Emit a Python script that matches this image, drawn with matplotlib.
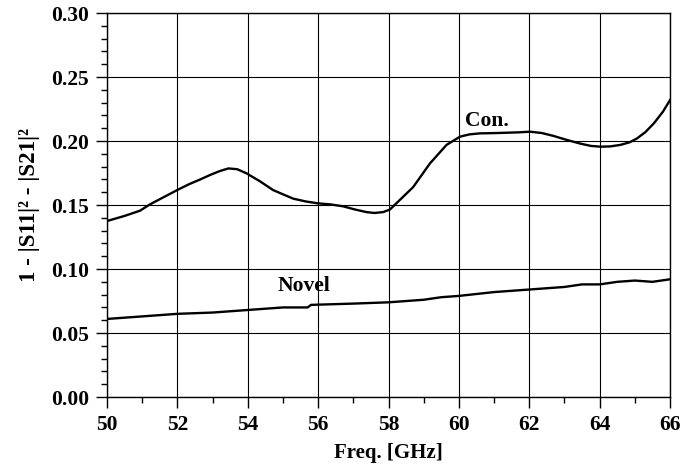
import numpy as np
import matplotlib.pyplot as plt
from matplotlib.ticker import MultipleLocator

# Con. curve
con_f = [50, 50.5, 50.94, 51.22, 51.6, 52.03, 52.35, 52.65, 52.93, 53.2, 53.45, 53.7, 53.97, 54.35,
         54.72, 55.29, 55.65, 56.0, 56.35, 56.71, 57.05, 57.37, 57.6, 57.85, 58.04, 58.27, 58.7, 59.18,
         59.65, 60.03, 60.3, 60.6, 61.0, 61.36, 61.7, 62.02, 62.35, 62.69, 63.05, 63.45, 63.75, 64.02,
         64.3, 64.59, 64.85, 65.06, 65.3, 65.54, 65.8, 66.0]
con_v = [0.1375, 0.1415, 0.1456, 0.1505, 0.156, 0.1622, 0.1665, 0.170, 0.1735, 0.1765, 0.1786, 0.178,
         0.1747, 0.1685, 0.1617, 0.155, 0.1528, 0.1513, 0.1505, 0.149, 0.1465, 0.1445, 0.1438, 0.1445,
         0.1465, 0.1526, 0.164, 0.1826, 0.197, 0.2034, 0.2052, 0.206, 0.2062, 0.2065, 0.2068, 0.2073,
         0.2063, 0.204, 0.201, 0.198, 0.1962, 0.1956, 0.1958, 0.197, 0.199, 0.202, 0.207, 0.2138, 0.223,
         0.232]

# Novel curve
nov_f = [50, 51, 52, 53, 54, 55, 55.7, 55.8, 57, 58, 59, 59.5, 60, 61, 62, 63, 63.5, 64, 64.5, 65, 65.5, 66]
nov_v = [0.061, 0.063, 0.065, 0.066, 0.068, 0.070, 0.070, 0.072, 0.073, 0.074, 0.076, 0.078, 0.079,
         0.082, 0.084, 0.086, 0.088, 0.088, 0.090, 0.091, 0.090, 0.092]

plt.rcParams['font.family'] = 'Liberation Serif'
plt.rcParams['font.weight'] = 'bold'

fig = plt.figure(figsize=(6.97, 4.66), dpi=100)
ax = fig.add_axes([0.1535, 0.148, 0.8078, 0.824])

ax.plot(con_f, con_v, color='black', lw=1.7)
ax.plot(nov_f, nov_v, color='black', lw=1.7)

ax.text(60.17, 0.2156, 'Con.', fontsize=15.5, fontweight='bold', va='center', ha='left')
ax.text(54.86, 0.0867, 'Novel', fontsize=15.5, fontweight='bold', va='center', ha='left')

ax.set_xlim(50, 66)
ax.set_ylim(0, 0.30)
ax.xaxis.set_major_locator(MultipleLocator(2))
ax.xaxis.set_minor_locator(MultipleLocator(1))
ax.yaxis.set_major_locator(MultipleLocator(0.05))
ax.yaxis.set_minor_locator(MultipleLocator(0.01))
ax.yaxis.set_major_formatter(plt.FuncFormatter(lambda v, p: '%.2f' % v))
ax.tick_params(which='major', direction='out', length=8, width=1, labelsize=15.5, pad=5)
ax.tick_params(which='minor', direction='out', length=4.5, width=1)
ax.grid(True, which='major', color='black', lw=0.8)
for s in ax.spines.values():
    s.set_linewidth(1)

ax.set_xlabel('Freq. [GHz]', fontsize=15, fontweight='bold', labelpad=6)
ax.set_ylabel('1 - |S11|² - |S21|²', fontsize=16.5, fontweight='bold', labelpad=8)

fig.savefig('out.png', dpi=100)
